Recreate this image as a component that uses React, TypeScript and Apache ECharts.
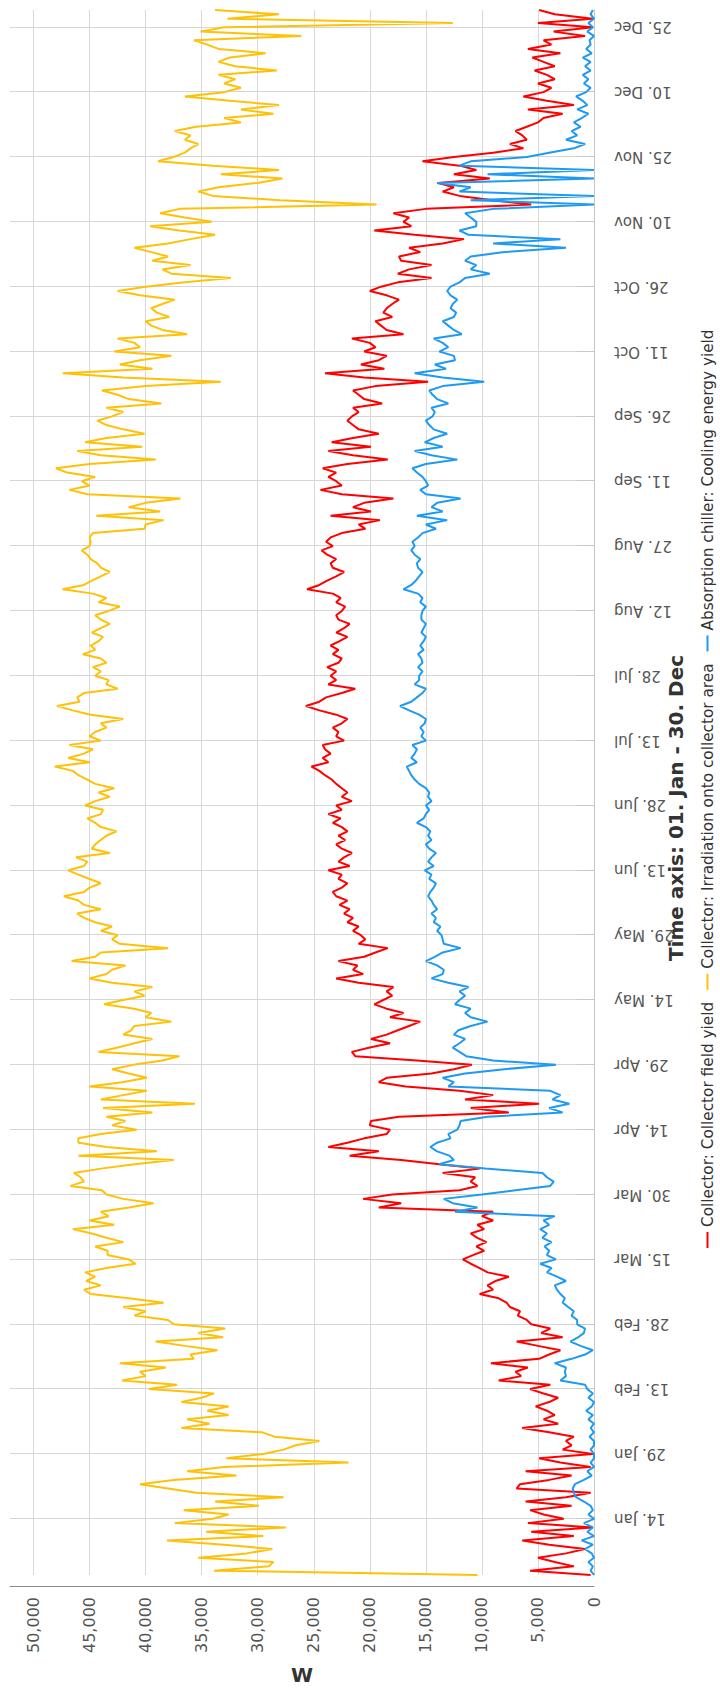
import React, { useEffect, useRef } from "react";
import * as echarts from "echarts";

const monthNames = ["Jan", "Feb", "Mar", "Apr", "May", "Jun", "Jul", "Aug", "Sep", "Oct", "Nov", "Dec"];
const dayCount = 363;
const firstTickIndex = 13;
const tickStep = 15;
const valueMax = 52100;
const valueStep = 5000;

const seriesNames = [
  "Collector: Collector field yield",
  "Collector: Irradiation onto collector area",
  "Absorption chiller: Cooling energy yield",
];
const seriesColors = ["#ff0000", "#ffc107", "#1e9af2"];
const xTitle = "Time axis: 01. Jan - 30. Dec";
const yTitle = "W";

// [day of year, W]
const fieldYield: [number, number][] = [
  [1,300],[2,5700],[3,1800],[4,3500],[5,5000],[6,2500],[7,800],[8,4000],[9,6400],[10,1800],[11,5600],[12,100],[13,5900],[14,2700],[15,4500],[16,5700],[17,2000],[18,6100],[19,2500],[20,300],[21,6900],[22,6600],[23,4000],[24,2000],[25,6100],[26,300],[27,3000],[28,4900],[29,100],[30,2800],[31,2000],[32,2500],[33,1800],[34,4000],[35,6400],[36,3200],[37,4500],[38,3500],[39,4200],[40,5200],[41,4000],[42,3200],[43,4500],[44,5700],[45,3900],[46,8500],[47,6500],[48,7000],[49,5900],[50,9200],[51,4900],[52,4000],[53,3000],[54,5000],[55,6900],[56,2800],[57,4700],[58,3900],[59,5600],
  [60,6000],[61,6800],[62,6600],[63,7500],[64,7800],[65,8500],[66,10200],[67,9000],[68,9500],[69,8800],[70,7600],[71,9500],[72,10200],[73,11000],[74,11700],[75,10800],[76,9800],[77,10500],[78,9600],[79,10400],[80,11000],[81,9800],[82,10400],[83,9000],[84,10000],[85,9000],
  [86,19200],[87,17200],[88,20600],[89,18000],[90,12000],[91,10400],[92,11000],[93,10600],[94,13500],[95,10200],[96,13800],[97,17200],[98,21800],[99,19200],[100,23700],[101,22000],[102,20500],[103,18500],[104,18200],[105,20000],[106,19900],[107,17400],[108,7600],[109,11000],[110,4900],[111,11500],[112,9000],[113,12000],[114,16800],[115,19200],[116,18500],[117,14500],[118,12500],[119,10900],[120,15800],[121,21300],
  [122,21600],[123,20000],[124,18200],[125,19900],[126,18500],[127,17500],[128,16500],[129,15500],[130,18200],[131,17000],[132,18500],[133,19600],[134,18800],[135,18000],[136,18500],[137,17900],[138,21000],[139,23000],[140,20600],[141,21500],[142,21100],[143,22800],[144,20500],[145,19500],[146,18400],[147,21000],[148,20400],[149,20800],[150,21500],[151,21000],[152,22000],[153,21500],[154,22300],[155,21800],[156,22700],[157,22000],[158,23000],[159,23300],[160,22500],[161,22000],[162,22800],[163,22500],[164,23700],[165,21800],[166,22800],[167,22300],[168,21600],[169,22500],[170,23000],[171,22200],[172,22800],[173,22000],[174,22500],[175,23300],[176,22600],[177,23700],[178,22500],[179,23000],[180,21600],[181,22500],[182,22000],
  [183,22500],[184,23000],[185,23400],[186,24000],[187,24500],[188,25200],[189,23700],[190,24200],[191,23500],[192,24000],[193,24200],[194,22300],[195,23000],[196,22800],[197,23300],[198,22500],[199,22000],[200,23000],[201,24500],[202,25700],[203,24500],[204,23900],[205,22500],[206,21300],[207,23700],[208,23000],[209,23500],[210,23000],[211,23800],[212,22800],[213,22500],[214,23300],[215,22800],[216,23500],[217,22700],[218,22000],[219,23000],[220,22300],[221,21800],[222,22800],[223,23000],[224,22500],[225,22200],[226,23000],[227,22600],[228,23300],[229,25600],[230,24500],[231,23800],[232,23000],[233,22300],[234,23300],[235,23500],[236,23000],[237,23800],[238,24300],[239,23300],[240,23900],[241,23500],[242,22500],[243,20400],
  [244,21000],[245,19100],[246,23500],[247,19900],[248,21500],[249,20500],[250,17900],[251,22500],[252,24400],[253,22500],[254,23000],[255,23700],[256,23000],[257,24200],[258,22000],[259,18400],[260,21500],[261,23700],[262,19900],[263,23400],[264,21500],[265,19200],[266,21000],[267,21500],[268,22000],[269,21600],[270,21000],[271,21500],[272,18900],[273,20500],[274,21000],[275,21500],[276,19500],[277,14800],[278,20500],[279,24000],[280,18700],[281,20800],[282,19200],[283,18500],[284,20500],[285,19500],[286,20000],[287,21600],[288,17000],[289,18500],[290,19000],[291,19500],[292,18000],[293,18800],[294,18500],[295,18000],[296,17400],[297,18500],[298,20000],[299,19000],[300,17500],[301,14500],[302,17500],[303,16500],[304,14500],[305,17200],
  [306,17400],[307,15500],[308,16500],[309,13500],[310,11600],[311,16000],[312,19600],[313,16300],[314,17000],[315,16500],[316,17900],[317,15000],[318,5600],[319,9000],[320,12000],[321,13500],[322,12500],[323,13900],[324,9300],[325,12500],[326,10500],[327,12000],[328,15300],[329,12500],[330,9000],[331,6300],[332,7500],[333,6000],[334,6400],[335,7000],[336,6000],[337,5000],[338,4500],[339,2800],[340,5900],[341,1800],[342,4200],[343,6300],[344,4500],[345,3800],[346,5000],[347,3500],[348,4200],[349,5300],[350,3500],[351,4500],[352,5500],[353,3000],[354,5900],[355,3800],[356,4500],[357,800],[358,3600],[359,100],[360,5000],[361,100],[362,3500],[363,4900],
];

const irradiation: [number, number][] = [
  [1,10400],[2,33900],[3,29000],[4,28600],[5,35300],[6,31000],[7,28700],[8,33000],[9,38100],[10,29500],[11,34600],[12,27500],[13,37400],[14,34000],[15,32600],[16,36600],[17,29900],[18,33800],[19,27700],[20,35500],[21,38000],[22,40500],[23,37500],[24,31900],[25,36300],[26,33000],[27,21900],[28,32800],[29,29500],[30,27700],[31,26600],[32,24500],[33,28500],[34,29600],[35,36800],[36,34300],[37,36300],[38,32600],[39,34500],[40,32600],[41,36800],[42,35000],[43,33900],[44,39700],[45,37200],[46,42100],[47,40000],[48,40500],[49,38200],[50,42300],[51,35700],[52,36000],[53,33600],[54,36500],[55,39100],[56,33100],[57,35300],[58,32900],[59,37500],
  [60,38000],[61,41000],[62,40000],[63,42000],[64,38400],[65,41500],[66,44900],[67,45500],[68,44000],[69,45300],[70,44500],[71,45400],[72,43500],[73,40900],[74,41500],[75,43400],[76,43400],[77,44500],[78,42000],[79,43500],[80,44800],[81,46500],[82,42800],[83,45000],[84,43300],[85,44000],[86,41500],[87,39300],[88,42000],[89,43500],[90,43900],[91,46700],[92,45500],[93,45800],[94,46400],[95,44000],[96,41000],[97,37500],[98,46000],[99,39000],[100,43500],[101,46000],[102,46000],[103,44000],[104,40800],[105,43000],[106,41800],[107,43500],[108,39400],[109,43800],[110,35600],[111,44000],[112,42000],[113,39900],[114,45000],[115,42100],[116,39900],[117,41500],[118,43000],[119,41100],[120,38500],[121,37000],
  [122,44200],[123,42500],[124,41000],[125,39400],[126,42000],[127,41300],[128,41000],[129,37700],[130,40000],[131,39500],[132,41000],[133,43700],[134,42000],[135,40100],[136,41000],[137,39400],[138,43000],[139,45000],[140,43500],[141,43000],[142,41800],[143,46600],[144,44500],[145,44000],[146,38000],[147,42300],[148,43000],[149,42500],[150,44000],[151,43000],[152,44500],[153,45500],[154,46100],[155,44000],[156,45500],[157,46000],[158,47300],[159,45500],[160,45000],[161,44000],[162,45000],[163,46000],[164,46900],[165,45500],[166,45200],[167,46200],[168,43200],[169,44800],[170,44500],[171,44000],[172,43500],[173,42600],[174,44000],[175,44500],[176,45200],[177,44000],[178,43800],[179,45400],[180,44500],[181,43200],[182,44200],
  [183,42800],[184,44500],[185,45200],[186,46000],[187,46500],[188,48100],[189,45000],[190,46900],[191,45500],[192,44700],[193,46800],[194,44000],[195,45000],[196,44500],[197,43500],[198,44000],[199,42000],[200,44900],[201,46500],[202,47900],[203,45900],[204,46100],[205,45500],[206,42500],[207,43500],[208,43300],[209,44500],[210,44000],[211,44700],[212,43500],[213,44000],[214,45600],[215,44500],[216,44900],[217,44200],[218,43800],[219,44800],[220,44000],[221,43200],[222,44000],[223,44500],[224,43300],[225,42300],[226,44200],[227,43500],[228,44700],[229,47400],[230,45500],[231,44800],[232,44000],[233,43200],[234,44000],[235,44300],[236,44900],[237,45200],[238,45700],[239,45000],[240,44900],[241,45000],[242,44700],[243,40100],
  [244,40000],[245,38400],[246,44400],[247,38700],[248,41500],[249,40000],[250,36900],[251,45200],[252,46800],[253,45000],[254,45700],[255,44500],[256,47000],[257,48000],[258,45000],[259,39100],[260,44000],[261,46100],[262,40300],[263,45400],[264,43500],[265,40100],[266,42000],[267,43500],[268,44300],[269,43000],[270,42000],[271,43500],[272,38600],[273,41500],[274,42500],[275,43900],[276,40000],[277,33300],[278,42000],[279,47400],[280,39400],[281,42300],[282,40500],[283,37700],[284,42800],[285,40500],[286,41000],[287,42500],[288,36300],[289,38500],[290,39500],[291,40000],[292,37900],[293,39000],[294,39500],[295,38500],[296,37400],[297,40500],[298,42500],[299,40000],[300,36500],[301,32400],[302,37700],[303,38500],[304,36000],[305,39400],
  [306,38000],[307,39500],[308,41000],[309,38000],[310,36000],[311,33800],[312,37000],[313,39600],[314,34100],[315,36500],[316,38700],[317,37000],[318,19400],[319,28000],[320,34000],[321,35300],[322,33500],[323,30000],[324,27800],[325,33300],[326,28100],[327,34000],[328,38900],[329,37500],[330,36500],[331,36000],[332,35300],[333,36500],[334,36000],[335,37400],[336,35500],[337,31500],[338,33000],[339,28600],[340,31500],[341,28100],[342,32500],[343,36500],[344,33000],[345,31500],[346,33000],[347,32000],[348,33500],[349,28300],[350,32000],[351,33500],[352,32500],[353,29300],[354,33500],[355,34500],[356,35700],[357,26100],[358,35100],[359,33000],[360,12600],[361,32700],[362,28100],[363,33800],
];

const coolingYield: [number, number][] = [
  [1,0],[2,300],[3,100],[4,500],[5,0],[6,200],[7,800],[8,100],[9,1100],[10,0],[11,600],[12,100],[13,900],[14,0],[15,500],[16,100],[17,300],[18,900],[19,1600],[20,1800],[21,1900],[22,1700],[23,900],[24,200],[25,600],[26,0],[27,300],[28,0],[29,0],[30,300],[31,0],[32,0],[33,400],[34,0],[35,300],[36,0],[37,500],[38,100],[39,700],[40,200],[41,0],[42,500],[43,100],[44,600],[45,800],[46,3000],[47,2500],[48,2600],[49,2500],[50,3500],[51,2000],[52,800],[53,100],[54,1200],[55,2100],[56,1400],[57,900],[58,800],[59,1500],
  [60,1500],[61,2000],[62,1800],[63,2300],[64,2800],[65,2600],[66,3000],[67,3300],[68,3500],[69,2500],[70,3300],[71,4200],[72,3800],[73,4800],[74,3400],[75,4200],[76,4000],[77,4400],[78,3800],[79,4600],[80,4200],[81,4800],[82,4000],[83,4500],[84,3500],
  [85,12400],[86,10400],[87,12600],[88,13400],[89,10000],[90,7000],[91,3900],[92,3600],[93,4200],[94,4600],[95,9700],[96,13800],[97,12500],[98,12900],[99,14000],[100,14600],[101,14000],[102,12800],[103,13000],[104,12200],[105,12000],[106,11900],[107,9500],[108,2800],[109,4000],[110,2200],[111,3700],[112,3000],[113,3900],[114,13000],[115,12500],[116,13500],[117,11500],[118,8000],[119,3400],[120,9000],[121,11400],
  [122,12000],[123,12600],[124,12000],[125,11500],[126,12500],[127,12100],[128,11000],[129,9500],[130,11000],[131,11500],[132,11000],[133,12400],[134,12000],[135,11500],[136,12000],[137,11200],[138,13000],[139,14500],[140,13500],[141,13400],[142,14000],[143,15000],[144,14200],[145,13500],[146,11900],[147,13400],[148,13500],[149,13600],[150,14000],[151,13700],[152,14300],[153,14100],[154,14500],[155,14000],[156,14300],[157,14500],[158,14800],[159,14600],[160,14300],[161,14100],[162,14700],[163,14500],[164,15100],[165,14300],[166,14800],[167,14500],[168,14100],[169,14700],[170,15000],[171,14500],[172,14800],[173,14600],[174,15000],[175,15800],[176,15200],[177,15000],[178,14700],[179,15000],[180,14500],[181,14800],[182,14700],
  [183,15000],[184,15600],[185,16000],[186,16300],[187,16500],[188,16700],[189,15800],[190,16300],[191,16000],[192,15800],[193,16200],[194,15000],[195,15400],[196,15200],[197,15500],[198,15100],[199,15000],[200,15600],[201,16500],[202,17300],[203,16300],[204,15800],[205,15300],[206,15000],[207,16000],[208,15600],[209,15600],[210,15300],[211,15700],[212,15300],[213,15400],[214,15700],[215,15200],[216,15500],[217,15200],[218,15000],[219,15400],[220,15200],[221,15000],[222,15400],[223,15400],[224,15300],[225,15000],[226,15500],[227,15300],[228,15700],[229,17000],[230,16300],[231,15900],[232,15600],[233,15300],[234,15700],[235,15800],[236,15500],[237,16000],[238,16300],[239,16000],[240,16200],[241,15700],[242,15300],[243,14100],
  [244,15000],[245,13100],[246,15800],[247,13500],[248,14500],[249,14000],[250,11900],[251,15000],[252,15500],[253,14800],[254,15000],[255,15300],[256,15800],[257,16200],[258,15000],[259,12200],[260,14500],[261,16000],[262,13500],[263,15100],[264,14300],[265,13100],[266,14300],[267,14700],[268,15000],[269,14400],[270,14200],[271,14500],[272,13000],[273,14000],[274,14400],[275,14700],[276,13500],[277,9800],[278,13500],[279,16000],[280,13200],[281,14200],[282,12400],[283,12500],[284,13800],[285,13000],[286,13500],[287,14300],[288,11800],[289,12500],[290,13000],[291,13500],[292,12500],[293,12300],[294,12800],[295,12600],[296,12200],[297,12800],[298,13100],[299,12800],[300,12000],[301,11500],[302,9300],[303,11000],[304,10500],[305,11500],
  [306,11000],[307,8000],[308,2500],[309,9000],[310,3000],[311,11200],[312,12000],[313,10500],[314,10500],[315,11000],[316,11500],[317,9000],[318,0],[319,11000],[320,0],[321,12000],[322,11000],[323,14000],[324,0],[325,9500],[326,0],[327,12000],[328,11000],[329,6000],[330,4000],[331,1800],[332,800],[333,2500],[334,1500],[335,2000],[336,1200],[337,1800],[338,1100],[339,500],[340,1500],[341,600],[342,1000],[343,1600],[344,700],[345,300],[346,900],[347,500],[348,1000],[349,300],[350,800],[351,300],[352,1000],[353,200],[354,700],[355,300],[356,400],[357,0],[358,600],[359,100],[360,500],[361,0],[362,300],[363,100],
];

const categories = Array.from({ length: dayCount }, (_, i) => {
  const d = new Date(Date.UTC(2023, 0, 1 + i));
  return `${d.getUTCDate()}. ${monthNames[d.getUTCMonth()]}`;
});

const isTick = (index: number) => index >= firstTickIndex && (index - firstTickIndex) % tickStep === 0;
const toPoints = (pts: [number, number][]) => pts.map(([d, v]) => [d - 1, v]);

const FONT = "DejaVu Sans";
const W = 1693;
const H = 720;

export default function App() {
  const ref = useRef<HTMLDivElement>(null);

  useEffect(() => {
    document.body.style.margin = "0";
    document.body.style.overflow = "hidden";
    const chart = echarts.init(ref.current!, undefined, { renderer: "svg", width: W, height: H });
    const data = [fieldYield, irradiation, coolingYield];
    chart.setOption({
      animation: false,
      backgroundColor: "#ffffff",
      textStyle: { fontFamily: FONT },
      grid: { left: 118, right: 10, top: 10, bottom: 126, containLabel: false },
      legend: {
        data: seriesNames,
        left: 440,
        top: 695,
        icon: "rect",
        itemWidth: 16,
        itemHeight: 2,
        itemGap: 12,
        textStyle: { fontFamily: FONT, fontSize: 15.3, color: "#333333" },
      },
      graphic: [
        {
          type: "text",
          x: 885,
          y: 676,
          style: {
            text: xTitle,
            align: "center",
            verticalAlign: "middle",
            fontFamily: FONT,
            fontSize: 20,
            fontWeight: "bold",
            fill: "#333333",
          },
        },
        {
          type: "text",
          x: 18,
          y: 302,
          rotation: -Math.PI / 2,
          style: {
            text: yTitle,
            align: "center",
            verticalAlign: "middle",
            fontFamily: FONT,
            fontSize: 20,
            fontWeight: "bold",
            fill: "#333333",
          },
        },
      ],
      xAxis: {
        type: "category",
        data: categories,
        boundaryGap: false,
        offset: 17,
        axisLine: { show: true, lineStyle: { color: "#c8c8c8", width: 1 } },
        axisTick: {
          show: true,
          inside: true,
          length: 17,
          interval: (i: number) => isTick(i),
          lineStyle: { color: "#c8c8c8" },
        },
        axisLabel: {
          interval: (i: number) => isTick(i),
          rotate: 90,
          margin: 3,
          color: "#555555",
          fontSize: 15,
          fontFamily: FONT,
        },
        splitLine: {
          show: true,
          interval: (i: number) => isTick(i),
          lineStyle: { color: "#d6d6d6", width: 1 },
        },
      },
      yAxis: {
        type: "value",
        min: 0,
        max: valueMax,
        interval: valueStep,
        offset: 12,
        axisLine: { show: true, lineStyle: { color: "#8c8c8c", width: 1 } },
        axisTick: { show: false },
        axisLabel: {
          margin: 10,
          fontSize: 16,
          color: "#555555",
          fontFamily: FONT,
          showMaxLabel: false,
          formatter: (v: number) => (v % valueStep === 0 ? v.toLocaleString("en-US") : ""),
        },
        splitLine: { show: true, showMaxLine: false, lineStyle: { color: "#d9d9d9", width: 1 } },
      },
      series: data.map((pts, k) => ({
        name: seriesNames[k],
        type: "line",
        data: toPoints(pts),
        showSymbol: false,
        symbol: "none",
        lineStyle: { width: 2, color: seriesColors[k] },
        itemStyle: { color: seriesColors[k] },
        emphasis: { disabled: true },
      })),
    });
    return () => chart.dispose();
  }, []);

  return (
    <div style={{ width: 720, height: 1693, position: "relative", overflow: "hidden", background: "#ffffff" }}>
      <div
        ref={ref}
        style={{
          width: W,
          height: H,
          position: "absolute",
          left: 0,
          top: 0,
          transformOrigin: "0 0",
          transform: `translate(0px, ${W}px) rotate(-90deg)`,
        }}
      />
    </div>
  );
}
